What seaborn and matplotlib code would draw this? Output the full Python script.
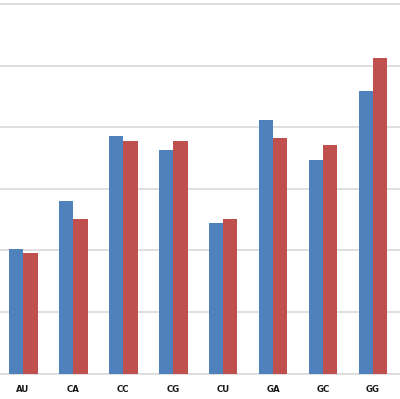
import matplotlib
matplotlib.use("Agg")
import matplotlib.pyplot as plt
import seaborn as sns
import pandas as pd

categories = ["AU", "CA", "CC", "CG", "CU", "GA", "GC", "GG"]
series_names = ["Series 1", "Series 2"]
blue_values = [2.02, 2.80, 3.85, 3.63, 2.44, 4.12, 3.47, 4.59]
red_values = [1.96, 2.51, 3.77, 3.78, 2.51, 3.83, 3.71, 5.13]
grid_ticks = [0, 1, 2, 3, 4, 5, 6]

df = pd.DataFrame({
    "cat": categories * 2,
    "series": [series_names[0]] * len(categories) + [series_names[1]] * len(categories),
    "value": blue_values + red_values,
})

sns.set_theme(style="white")
fig = plt.figure(figsize=(4.0, 3.99), dpi=100)
ax = fig.add_axes([0.0, 25.5 / 399, 1.0, 373.5 / 399])

sns.barplot(data=df, x="cat", y="value", hue="series", order=categories,
            hue_order=series_names, palette=["#4F81BD", "#C0504D"],
            saturation=1, width=0.58, gap=0, linewidth=0, edgecolor="none",
            legend=False, ax=ax, zorder=3)

ax.set_xlim(-0.46, 7.54)
ax.set_ylim(0, 6.065)
ax.set_yticks(grid_ticks)
ax.yaxis.grid(True, color="#D9D9D9", linewidth=1.2, zorder=0)
ax.set_axisbelow(True)
ax.tick_params(axis="y", left=False, labelleft=False)
ax.tick_params(axis="x", bottom=False, pad=2)
for lab in ax.get_xticklabels():
    lab.set_fontsize(6.2)
    lab.set_fontweight("bold")
    lab.set_color("#1a1a1a")
for s in ["top", "right", "left"]:
    ax.spines[s].set_visible(False)
ax.spines["bottom"].set_color("#D9D9D9")
ax.spines["bottom"].set_linewidth(1.2)
ax.set_xlabel("")
ax.set_ylabel("")

fig.savefig("out.png", dpi=100)
